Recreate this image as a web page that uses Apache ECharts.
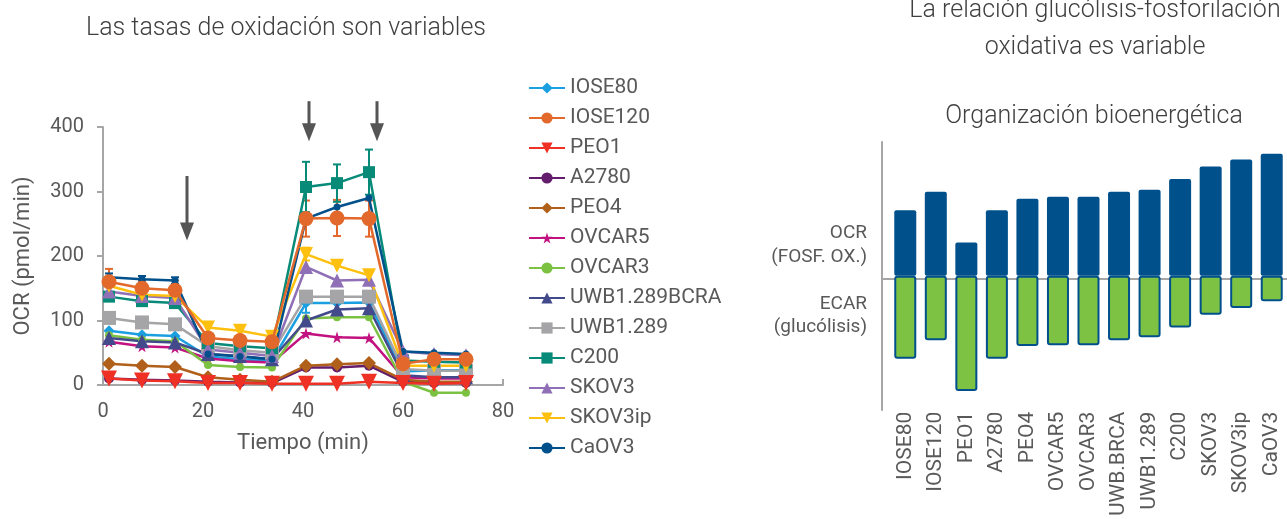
<!DOCTYPE html>
<html><head><meta charset="utf-8">
<script src="https://cdn.jsdelivr.net/npm/echarts@6/dist/echarts.min.js"></script>
<style>html,body{margin:0;padding:0;background:#fff}#c{width:1287px;height:519px}</style>
</head><body><div id="c"></div>
<script>
// ---------- Left chart data (OCR vs time) ----------
const times = [1.2, 7.8, 14.4, 21, 27.4, 33.8, 40.6, 46.8, 53.2, 60, 66.2, 72.6];
const IOSE80 = [84, 78, 76, 44, 40, 38, 127, 127, 128, 21, 23, 23];
const IOSE120 = [160, 150, 147, 73, 69, 67, 258, 259, 258, 33, 40, 40];
const PEO1 = [10, 7, 6, 3, 3, 2, 2, 2, 5, 3, 2, 3];
const A2780 = [10, 8, 7, 5, 4, 3, 27, 27, 30, 5, 3, 3];
const PEO4 = [33, 30, 28, 12, 8, 5, 30, 32, 34, 8, 5, 5];
const OVCAR5 = [67, 60, 58, 41, 37, 35, 80, 74, 73, 12, 10, 10];
const OVCAR3 = [77, 70, 68, 31, 28, 27, 103, 105, 105, 5, -12, -12];
const UWB1289BCRA = [73, 68, 66, 48, 45, 40, 100, 117, 119, 15, 12, 12];
const UWB1289 = [104, 97, 94, 60, 54, 50, 137, 137, 137, 25, 22, 22];
const C200 = [137, 130, 127, 65, 60, 57, 307, 313, 330, 38, 36, 35];
const SKOV3 = [145, 138, 135, 55, 50, 45, 183, 162, 163, 52, 48, 46];
const SKOV3ip = [154, 140, 138, 89, 84, 75, 203, 185, 170, 30, 30, 30];
const CaOV3 = [167, 164, 162, 48, 44, 40, 258, 276, 290, 52, 50, 48];
// error bars (± values)
const errIOSE120 = [20, 12, 15, 0, 0, 0, 28, 28, 28, 0, 0, 0];
const errC200 = [0, 0, 0, 0, 0, 0, 39, 29, 35, 0, 0, 0];
const errIOSE80 = [0, 0, 0, 0, 0, 0, 15, 15, 15, 0, 0, 0];
const errSKOV3ip = [0, 0, 0, 0, 0, 0, 10, 0, 0, 0, 0, 0];
const errCaOV3 = [6, 5, 5, 0, 0, 0, 0, 0, 0, 0, 0, 0];
const yTicks = [0, 100, 200, 300, 400];
const xTicks = [0, 20, 40, 60, 80];
// arrows (injection times), data units
const arrowX = [16.8, 41.2, 54.8];
const arrowTop = [324, 440, 440];
const arrowTip = [224, 378, 378];

// ---------- Right chart data ----------
const cellLines = ['IOSE80', 'IOSE120', 'PEO1', 'A2780', 'PEO4', 'OVCAR5', 'OVCAR3', 'UWB.BRCA', 'UWB1.289', 'C200', 'SKOV3', 'SKOV3ip', 'CaOV3'];
const ocrBars = [67, 86, 34, 67, 79, 81, 81, 86, 88, 99, 112, 119, 125];
const ecarBars = [-85, -66, -118, -85, -72, -71, -71, -66, -63, -53, -40, -33, -26];

const starPath = 'path://M50,0 L61,35 L98,35 L68,57 L79,91 L50,70 L21,91 L32,57 L2,35 L39,35 Z';
const downTri = 'path://M0,0 L10,0 L5,9 Z';
const seriesDefs = [
  {name: 'IOSE80', data: IOSE80, color: '#1a9fe0', symbol: 'diamond', size: 11, err: errIOSE80},
  {name: 'IOSE120', data: IOSE120, color: '#e2692b', symbol: 'circle', size: 15, err: errIOSE120, z: 4},
  {name: 'PEO1', data: PEO1, color: '#ee3124', symbol: downTri, size: 16, z: 5},
  {name: 'A2780', data: A2780, color: '#641c6c', symbol: 'circle', size: 10},
  {name: 'PEO4', data: PEO4, color: '#b0601a', symbol: 'diamond', size: 14},
  {name: 'OVCAR5', data: OVCAR5, color: '#c2127f', symbol: starPath, size: 12},
  {name: 'OVCAR3', data: OVCAR3, color: '#7cc242', symbol: 'circle', size: 8},
  {name: 'UWB1.289BCRA', data: UWB1289BCRA, color: '#424a8c', symbol: 'triangle', size: 14},
  {name: 'UWB1.289', data: UWB1289, color: '#a5a5a7', symbol: 'rect', size: 14},
  {name: 'C200', data: C200, color: '#078a78', symbol: 'rect', size: 12, err: errC200},
  {name: 'SKOV3', data: SKOV3, color: '#8f70b6', symbol: 'triangle', size: 14},
  {name: 'SKOV3ip', data: SKOV3ip, color: '#fdc00f', symbol: downTri, size: 14, err: errSKOV3ip},
  {name: 'CaOV3', data: CaOV3, color: '#00508b', symbol: 'circle', size: 7, err: errCaOV3}
];

const font = 'Roboto, "Noto Sans", sans-serif';
const axisGray = '#a6a6a6';
const labelColor = '#595959';

const series = [];
seriesDefs.forEach(d => {
  series.push({
    type: 'line', name: d.name, xAxisIndex: 0, yAxisIndex: 0,
    data: times.map((t, i) => [t, d.data[i]]),
    symbol: d.symbol, symbolSize: d.size, showAllSymbol: true,
    lineStyle: {color: d.color, width: 2.5}, itemStyle: {color: d.color},
    clip: false, z: d.z || 2, animation: false
  });
  if (d.err) {
    const ed = [];
    d.err.forEach((e, i) => { if (e > 0) ed.push([times[i], d.data[i] - e, d.data[i] + e]); });
    series.push({
      type: 'custom', name: 'err_' + d.name, xAxisIndex: 0, yAxisIndex: 0,
      data: ed, encode: {x: 0, y: [1, 2]}, z: 1, animation: false, silent: true,
      renderItem: function (params, api) {
        const lo = api.coord([api.value(0), api.value(1)]);
        const hi = api.coord([api.value(0), api.value(2)]);
        const st = {stroke: d.color, lineWidth: 2};
        return {type: 'group', children: [
          {type: 'line', shape: {x1: lo[0], y1: lo[1], x2: hi[0], y2: hi[1]}, style: st},
          {type: 'line', shape: {x1: lo[0] - 4, y1: lo[1], x2: lo[0] + 4, y2: lo[1]}, style: st},
          {type: 'line', shape: {x1: hi[0] - 4, y1: hi[1], x2: hi[0] + 4, y2: hi[1]}, style: st}
        ]};
      }
    });
  }
});

// right chart bars
series.push({
  type: 'bar', name: 'OCR', xAxisIndex: 1, yAxisIndex: 1, data: ocrBars,
  barWidth: 22, barGap: '-100%',
  itemStyle: {color: '#00508b', borderRadius: 2}, animation: false
});
series.push({
  type: 'bar', name: 'ECAR', xAxisIndex: 1, yAxisIndex: 1, data: ecarBars,
  barWidth: 22, barGap: '-100%',
  itemStyle: {color: '#7dc242', borderColor: '#00508b', borderWidth: 2, borderRadius: 2}, animation: false
});

const chart = echarts.init(document.getElementById('c'), null, {renderer: 'canvas'});
const titleStyle = {fontFamily: font, fontSize: 25, fontWeight: 300, color: '#404040'};
const option = {
  backgroundColor: '#fff',
  textStyle: {fontFamily: font},
  title: [
    {text: 'Las tasas de oxidación son variables', left: 281, top: 11, textAlign: 'center',
     textStyle: titleStyle},
    {text: 'La relación glucólisis-fosforilación\noxidativa es variable', left: 1090, top: -13, textAlign: 'center',
     textStyle: Object.assign({}, titleStyle, {lineHeight: 37})},
    {text: 'Organización bioenergética', left: 1089, top: 99, textAlign: 'center',
     textStyle: titleStyle}
  ],
  legend: {
    orient: 'vertical', left: 523, top: 72,
    data: seriesDefs.map(d => d.name),
    itemWidth: 36, itemHeight: 14, itemGap: 8,
    textStyle: {fontFamily: font, fontSize: 21, color: labelColor, lineHeight: 22},
    selectedMode: false
  },
  grid: [
    {left: 103, top: 127, width: 400, height: 258},
    {left: 890, top: 142, right: 0, height: 268},
    {left: 882, top: 142, right: 0, height: 268}
  ],
  xAxis: [
    {type: 'value', gridIndex: 0, min: xTicks[0], max: xTicks[xTicks.length - 1], interval: 20,
     name: 'Tiempo (min)', nameLocation: 'middle', nameGap: 47,
     nameTextStyle: {fontFamily: font, fontSize: 22, color: labelColor},
     axisLine: {show: true, onZero: false, lineStyle: {color: axisGray, width: 2}},
     axisTick: {show: true, inside: true, length: 6, lineStyle: {color: axisGray, width: 2}},
     axisLabel: {fontFamily: font, fontSize: 20, color: labelColor, margin: 17},
     splitLine: {show: false}},
    {type: 'category', gridIndex: 1, data: cellLines, position: 'bottom',
     axisLine: {show: false, onZero: false}, axisTick: {show: false},
     axisLabel: {rotate: 90, interval: 0, fontFamily: font, fontSize: 21, color: labelColor, margin: 8}},
    {type: 'value', gridIndex: 2, min: 0, max: 1, show: true,
     axisLine: {show: true, onZero: true, lineStyle: {color: axisGray, width: 2}},
     axisTick: {show: false}, axisLabel: {show: false}, splitLine: {show: false}}
  ],
  yAxis: [
    {type: 'value', gridIndex: 0, min: yTicks[0], max: yTicks[yTicks.length - 1], interval: 100,
     name: 'OCR (pmol/min)', nameLocation: 'middle', nameGap: 69,
     nameTextStyle: {fontFamily: font, fontSize: 22, color: labelColor},
     axisLine: {show: true, lineStyle: {color: axisGray, width: 2}},
     axisTick: {show: true, length: 6, lineStyle: {color: axisGray, width: 2}},
     axisLabel: {fontFamily: font, fontSize: 20, color: labelColor, margin: 19},
     splitLine: {show: false}},
    {type: 'value', gridIndex: 1, min: -131, max: 137, show: false},
    {type: 'value', gridIndex: 2, min: -131, max: 137,
     axisLine: {show: true, lineStyle: {color: axisGray, width: 2}},
     axisTick: {show: false}, axisLabel: {show: false}, splitLine: {show: false}}
  ],
  series: series
};
chart.setOption(option);

// arrows and side labels
const graphics = [];
arrowX.forEach((x, i) => {
  const top = chart.convertToPixel({xAxisIndex: 0, yAxisIndex: 0}, [x, arrowTop[i]]);
  const tip = chart.convertToPixel({xAxisIndex: 0, yAxisIndex: 0}, [x, arrowTip[i]]);
  const headH = 18, headW = 7;
  graphics.push({type: 'rect', shape: {x: top[0] - 1.5, y: top[1], width: 3, height: tip[1] - top[1] - headH + 1},
    style: {fill: '#555555'}, silent: true});
  graphics.push({type: 'polygon', shape: {points: [[tip[0] - headW, tip[1] - headH], [tip[0] + headW, tip[1] - headH], [tip[0], tip[1]]]},
    style: {fill: '#555555'}, silent: true});
});
const zeroPx = chart.convertToPixel({xAxisIndex: 2, yAxisIndex: 2}, [0, 0]);
graphics.push({type: 'text', x: 867, y: zeroPx[1] - 58, silent: true,
  style: {text: 'OCR\n(FOSF. OX.)', align: 'right', verticalAlign: 'top', fill: labelColor, font: '19px ' + font, lineHeight: 24}});
graphics.push({type: 'text', x: 867, y: zeroPx[1] + 14, silent: true,
  style: {text: 'ECAR\n(glucólisis)', align: 'right', verticalAlign: 'top', fill: labelColor, font: '19px ' + font, lineHeight: 23}});
chart.setOption({graphic: graphics});
</script>
</body></html>
